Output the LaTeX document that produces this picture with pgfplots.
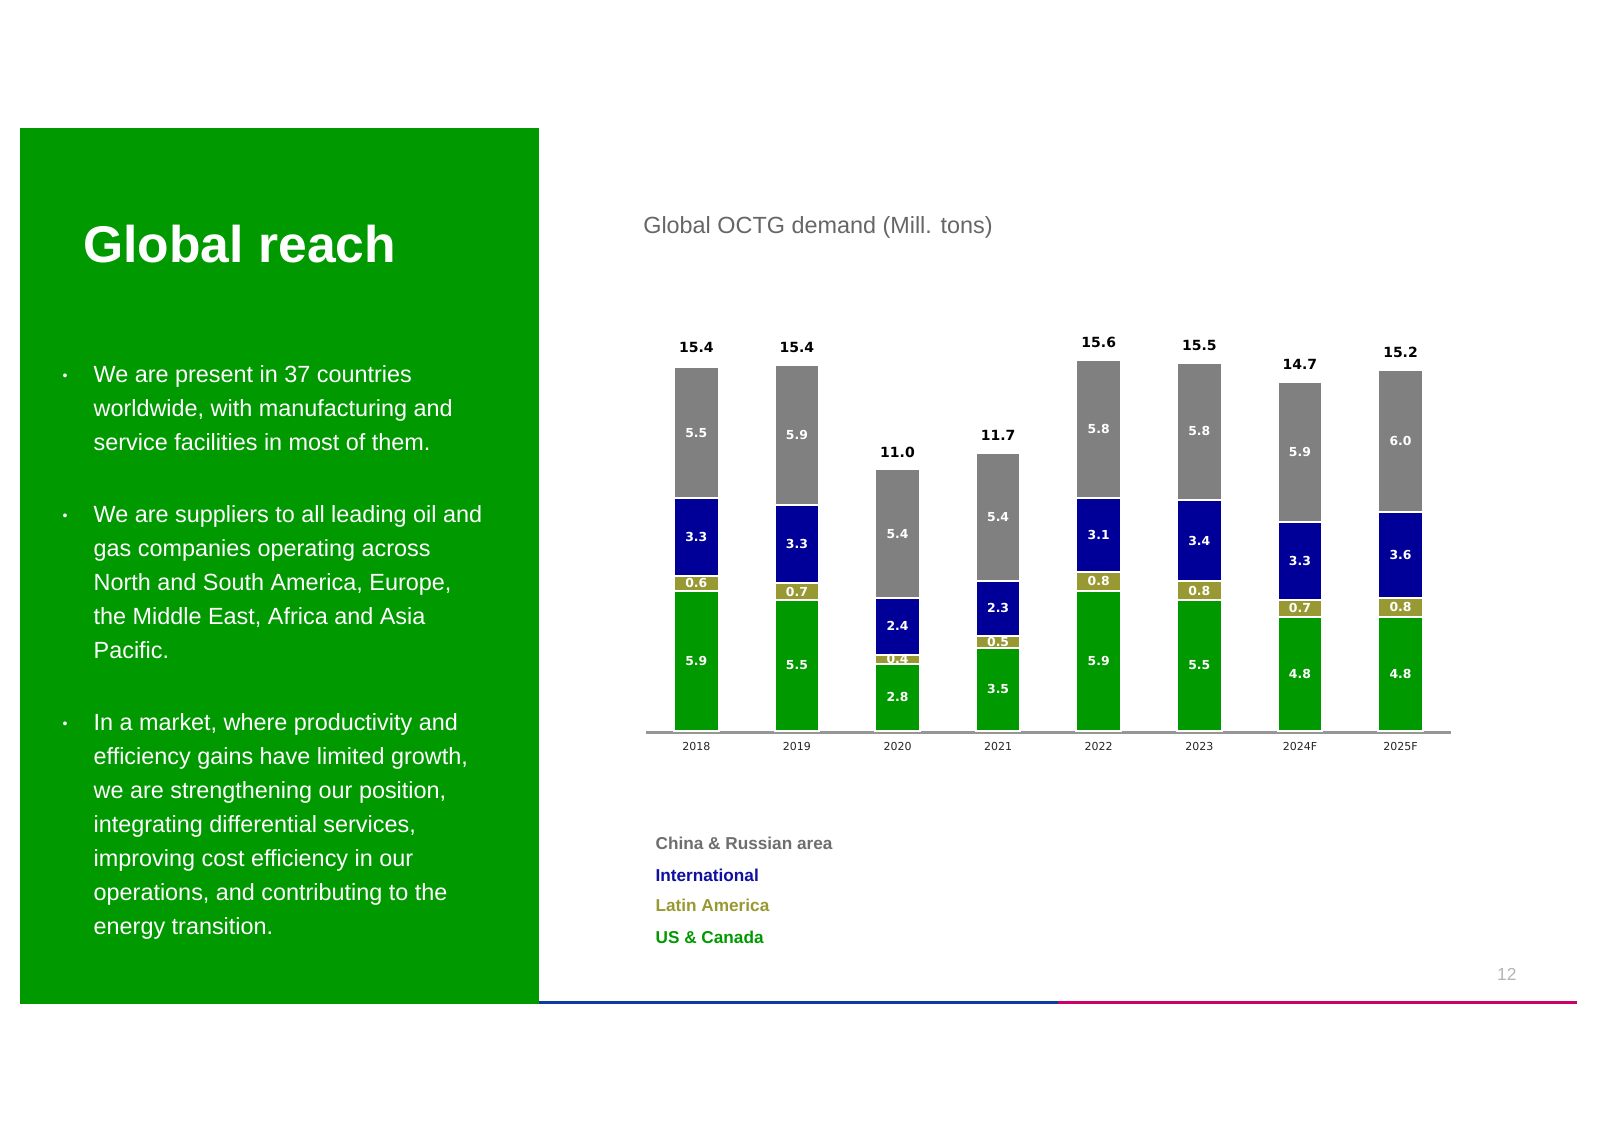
\documentclass[border=0pt]{standalone}
\usepackage{fontspec}
\setmainfont{Liberation Sans}
\newfontfamily\verd{DejaVu Sans}
\usepackage{pgfplots}
\pgfplotsset{compat=1.18}
\usepackage{pgfplotstable}

\definecolor{tgreen}{HTML}{009900}
\definecolor{tblue}{HTML}{000099}
\definecolor{tolive}{HTML}{999933}
\definecolor{tgray}{HTML}{808080}
\definecolor{axgray}{HTML}{969696}
\definecolor{legGray}{HTML}{6E6E6E}
\definecolor{legBlue}{HTML}{0F0FA0}
\definecolor{titGray}{HTML}{666666}
\definecolor{lineBlue}{HTML}{0A3C9E}
\definecolor{lineMag}{HTML}{CC0066}
\definecolor{pgnum}{HTML}{B4B4B4}

\pgfplotstableread{
x us  la  intl cr  total
0 5.9 0.6 3.3  5.5 15.4
1 5.5 0.7 3.3  5.9 15.4
2 2.8 0.4 2.4  5.4 11.0
3 3.5 0.5 2.3  5.4 11.7
4 5.9 0.8 3.1  5.8 15.6
5 5.5 0.8 3.4  5.8 15.5
6 4.8 0.7 3.3  5.9 14.7
7 4.8 0.8 3.6  6.0 15.2
}\octg

\pgfplotsset{
  inlab/.style={
    every node near coord/.append style={
      font=\verd\bfseries\fontsize{6.2}{7}\selectfont, text=white,
      anchor=center, inner sep=0pt}
  }
}

\begin{document}
\begin{tikzpicture}
% canvas
\fill[white] (0,0) rectangle (800pt,565.5pt);
% green panel
\fill[tgreen] (10.2pt,63.65pt) rectangle (269.5pt,501.7pt);
% bottom lines
\fill[lineBlue] (269.5pt,63.65pt) rectangle (529pt,65.0pt);
\fill[lineMag] (529pt,63.65pt) rectangle (788.25pt,65.0pt);

% panel title
\node[anchor=base west, inner sep=0pt, text=white, font=\bfseries\fontsize{25.8}{30}\selectfont] at (41.5pt,434.15pt) {Global reach};

% bullets
\foreach \b in {374.35,304.35,200.35}{
  \node[anchor=base, inner sep=0pt, text=white, font=\fontsize{7}{8}\selectfont] at (32.5pt,\b pt+1.1pt) {•};
}
\begin{scope}[every node/.style={anchor=base west, inner sep=0pt, text=white, font=\fontsize{11.7}{17}\selectfont}]
\node at (46.65pt,374.35pt) {We are present in 37 countries};
\node at (46.65pt,357.35pt) {worldwide, with manufacturing and};
\node at (46.65pt,340.35pt) {service facilities in most of them.};
\node at (46.65pt,304.35pt) {We are suppliers to all leading oil and};
\node at (46.65pt,287.35pt) {gas companies operating across};
\node at (46.65pt,270.35pt) {North and South America, Europe,};
\node at (46.65pt,253.35pt) {the Middle East, Africa and Asia};
\node at (46.65pt,236.35pt) {Pacific.};
\node at (46.65pt,200.35pt) {In a market, where productivity and};
\node at (46.65pt,183.35pt) {efficiency gains have limited growth,};
\node at (46.65pt,166.35pt) {we are strengthening our position,};
\node at (46.65pt,149.35pt) {integrating differential services,};
\node at (46.65pt,132.35pt) {improving cost efficiency in our};
\node at (46.65pt,115.35pt) {operations, and contributing to the};
\node at (46.65pt,98.35pt) {energy transition.};
\end{scope}

% chart title
\node[anchor=base west, inner sep=0pt, text=titGray, font=\fontsize{11.7}{14}\selectfont] at (321.45pt,448.85pt) {Global OCTG demand (Mill. tons)};

\begin{axis}[
  at={(323pt,200.15pt)}, anchor=south west,
  x=50.3pt, y=11.875pt,
  xmin=-0.5, xmax=7.5, ymin=0, ymax=17,
  ybar stacked, bar width=22.35pt,
  axis line style={draw=none},
  ytick=\empty,
  xtick={0,1,2,3,4,5,6,7},
  xticklabels={2018,2019,2020,2021,2022,2023,2024F,2025F},
  major tick length=0pt,
  xticklabel style={font=\verd\fontsize{5.5}{6}\selectfont, text=black!85, anchor=base, yshift=-9.65pt},
  clip=false,
  point meta=explicit symbolic,
  nodes near coords,
]
\addplot[fill=tgreen, draw=white, line width=1pt, inlab] table[x=x, y=us, meta=us] {\octg};
\addplot[fill=tolive, draw=white, line width=1pt, inlab] table[x=x, y=la, meta=la] {\octg};
\addplot[fill=tblue, draw=white, line width=1pt, inlab] table[x=x, y=intl, meta=intl] {\octg};
\addplot[fill=tgray, draw=white, line width=1pt, inlab] table[x=x, y=cr, meta=cr] {\octg};
\draw[axgray, line width=1.65pt, yshift=-0.825pt] (axis cs:-0.5,0) -- (axis cs:7.5,0);
\end{axis}

% totals
\begin{axis}[
  at={(323pt,200.15pt)}, anchor=south west,
  x=50.3pt, y=11.875pt,
  xmin=-0.5, xmax=7.5, ymin=0, ymax=17,
  hide axis, clip=false,
]
\addplot[draw=none, mark=none, nodes near coords, point meta=explicit symbolic,
  every node near coord/.append style={font=\verd\bfseries\fontsize{7}{8}\selectfont, text=black, anchor=base, inner sep=0pt, yshift=6.15pt}]
  table[x=x, y=total, meta=total] {\octg};
\end{axis}

% legend
\begin{scope}[every node/.style={anchor=base west, inner sep=0pt, font=\bfseries\fontsize{8.6}{10}\selectfont}]
\node[text=legGray] at (327.6pt,140.85pt) {China \& Russian area};
\node[text=legBlue] at (327.6pt,124.65pt) {International};
\node[text=tolive] at (327.6pt,109.65pt) {Latin America};
\node[text=tgreen] at (327.6pt,93.85pt) {US \& Canada};
\end{scope}

% page number
\node[anchor=base west, inner sep=0pt, text=pgnum, font=\fontsize{8.7}{10}\selectfont] at (748.4pt,75.15pt) {12};
\end{tikzpicture}
\end{document}
